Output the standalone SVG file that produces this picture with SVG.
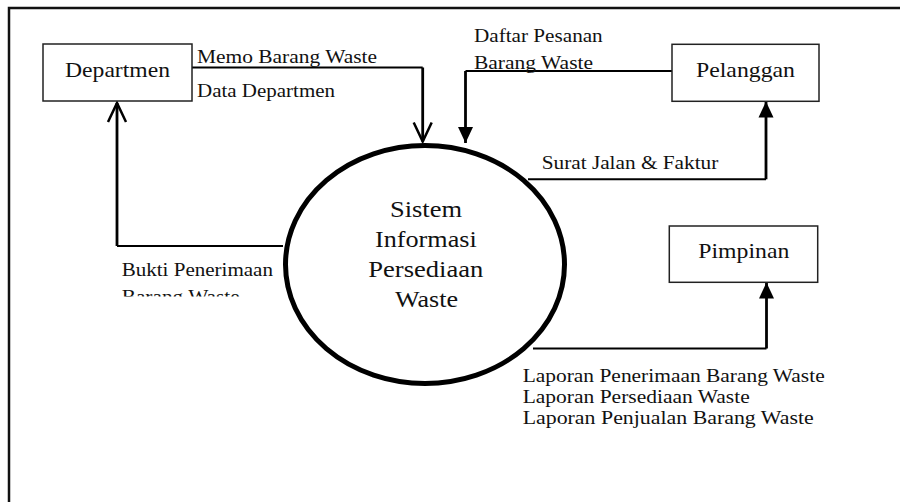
<svg xmlns="http://www.w3.org/2000/svg" width="900" height="502" viewBox="0 0 900 502">
  <style>
    .frame { fill: none; stroke: #111; stroke-width: 2.5; }
    .box { fill: #fff; stroke: #222; stroke-width: 1.5; }
    .proc { fill: #fff; stroke: #000; stroke-width: 5; }
    .flow { fill: none; stroke: #000; stroke-width: 2; }
    .shaft { fill: none; stroke: #000; stroke-width: 2.8; }
    .lbl { font-size: 18px; }
    .ent { font-size: 21px; }
    .sys { font-size: 24px; }
  </style>
  <defs>
    <marker id="solid" markerUnits="userSpaceOnUse" markerWidth="17" markerHeight="16" refX="16" refY="7.5" orient="auto" overflow="visible">
      <path d="M0,0 L16,7.5 L0,15 z" fill="#000"/>
    </marker>
    <marker id="open" markerUnits="userSpaceOnUse" markerWidth="20" markerHeight="20" refX="19" refY="9" orient="auto" overflow="visible">
      <path d="M0,0 L19,9 L0,18" fill="none" stroke="#000" stroke-width="2.5"/>
    </marker>
    <clipPath id="cutLabel">
      <rect x="100" y="250" width="190" height="46.5"/>
    </clipPath>
  </defs>

  <rect width="900" height="502" fill="#fff"/>

  <!-- page frame (open on right and bottom) -->
  <path class="frame" d="M9,502 V8 H900"/>

  <g font-family="'Liberation Serif', 'Times New Roman', serif" fill="#111">
  <!-- data flows -->
  <g id="connectors">
    <!-- Departmen -> system -->
    <path class="flow" d="M192,67.5 H422.7"/>
    <path class="shaft" d="M422.7,67.5 V141.5" marker-end="url(#open)"/>
    <!-- system -> Departmen -->
    <path class="flow" d="M283,246 H117"/>
    <path class="shaft" d="M117,246 V103" marker-end="url(#open)"/>
    <!-- Pelanggan -> system -->
    <path class="flow" d="M672,71 H465.5"/>
    <path class="shaft" d="M465.5,71 V143" marker-end="url(#solid)"/>
    <!-- system -> Pelanggan -->
    <path class="flow" d="M528,179.3 H766"/>
    <path class="shaft" d="M766,179.3 V101.5" marker-end="url(#solid)"/>
    <!-- system -> Pimpinan -->
    <path class="flow" d="M533,348.5 H766.5"/>
    <path class="shaft" d="M766.5,348.5 V282.5" marker-end="url(#solid)"/>

    <!-- flow labels -->
    <text class="lbl" x="197" y="63.3" textLength="180" lengthAdjust="spacingAndGlyphs">Memo Barang Waste</text>
    <text class="lbl" x="197" y="96.7" textLength="138" lengthAdjust="spacingAndGlyphs">Data Departmen</text>
    <text class="lbl" x="474" y="41.7" textLength="128.7" lengthAdjust="spacingAndGlyphs">Daftar Pesanan</text>
    <text class="lbl" x="474" y="68.7" textLength="119" lengthAdjust="spacingAndGlyphs">Barang Waste</text>
    <text class="lbl" x="541.7" y="169" textLength="176.6" lengthAdjust="spacingAndGlyphs">Surat Jalan &amp; Faktur</text>
    <g clip-path="url(#cutLabel)">
      <text class="lbl" x="121.7" y="276" textLength="151.3" lengthAdjust="spacingAndGlyphs">Bukti Penerimaan</text>
      <text class="lbl" x="121.7" y="302.7" textLength="118" lengthAdjust="spacingAndGlyphs">Barang Waste</text>
    </g>
    <text class="lbl" x="522.7" y="381.5" textLength="302" lengthAdjust="spacingAndGlyphs">Laporan Penerimaan Barang Waste</text>
    <text class="lbl" x="522.7" y="402.5" textLength="227" lengthAdjust="spacingAndGlyphs">Laporan Persediaan Waste</text>
    <text class="lbl" x="522.7" y="423.5" textLength="291" lengthAdjust="spacingAndGlyphs">Laporan Penjualan Barang Waste</text>
  </g>

  <!-- external entities -->
  <g id="departmen">
    <rect class="box" x="43" y="44" width="149" height="57"/>
    <text class="ent" x="65" y="77" textLength="105" lengthAdjust="spacingAndGlyphs">Departmen</text>
  </g>
  <g id="pelanggan">
    <rect class="box" x="672" y="44.3" width="147" height="57"/>
    <text class="ent" x="696" y="77.3" textLength="99" lengthAdjust="spacingAndGlyphs">Pelanggan</text>
  </g>
  <g id="pimpinan">
    <rect class="box" x="669.3" y="226" width="148.4" height="56.3"/>
    <text class="ent" x="698.3" y="258.3" textLength="91" lengthAdjust="spacingAndGlyphs">Pimpinan</text>
  </g>

  <!-- process -->
  <g id="sistem">
    <ellipse class="proc" cx="425" cy="264.5" rx="139.5" ry="119"/>
    <text class="sys" x="390" y="216.7" textLength="72" lengthAdjust="spacingAndGlyphs">Sistem</text>
    <text class="sys" x="375" y="246.7" textLength="101.7" lengthAdjust="spacingAndGlyphs">Informasi</text>
    <text class="sys" x="368.3" y="276.7" textLength="115" lengthAdjust="spacingAndGlyphs">Persediaan</text>
    <text class="sys" x="395" y="306.7" textLength="63" lengthAdjust="spacingAndGlyphs">Waste</text>
  </g>
  </g>
</svg>
